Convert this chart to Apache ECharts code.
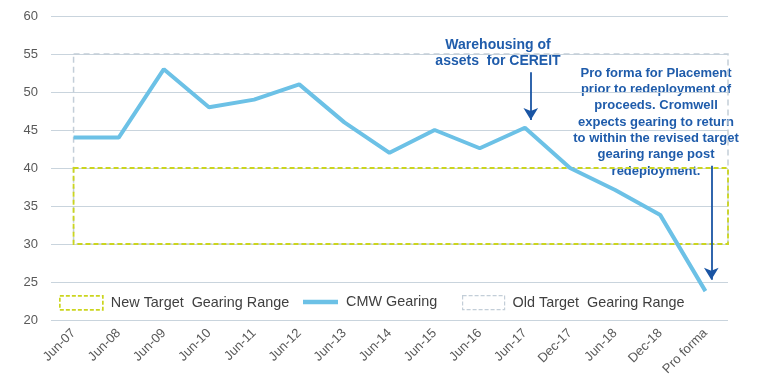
<!DOCTYPE html>
<html><head><meta charset="utf-8">
<script src="https://cdn.jsdelivr.net/npm/echarts@6/dist/echarts.min.js"></script>
<style>html,body{margin:0;padding:0;background:#fff}#c{width:757px;height:384px}</style>
</head><body><div id="c"></div>
<script>
const categories = ['Jun-07','Jun-08','Jun-09','Jun-10','Jun-11','Jun-12','Jun-13','Jun-14','Jun-15','Jun-16','Jun-17','Dec-17','Jun-18','Dec-18','Pro forma'];
const cmwGearing = [44, 44, 53, 48, 49, 51, 46, 42, 45, 42.6, 45.3, 40, 37.1, 33.8, 23.8];
const newTargetRange = [['Jun-07', 'Pro forma', 30, 40]];
const oldTargetRange = [['Jun-07', 'Pro forma', 30, 55]];
const yTicks = {min: 20, max: 60, interval: 5};
const warehousingArrow = [[10.13, 52.6], [10.13, 46.3]];
const proFormaArrow = [[14.13, 40.3], [14.13, 25.3]];

const FONT = 'Liberation Sans, Arial, sans-serif';
const YELLOW = '#cbd51e';
const GREY = '#c3ced8';
const chart = echarts.init(document.getElementById('c'));

function boxRenderer(stroke, dash, width){
  return function(params, api){
    const p0 = api.coord([api.value(0), api.value(3)]);
    const p1 = api.coord([api.value(1), api.value(2)]);
    const half = api.size([1, 0])[0] / 2;
    return {
      type: 'rect',
      shape: {x: p0[0], y: p0[1], width: p1[0] + half - p0[0], height: p1[1] - p0[1]},
      style: {fill: 'none', stroke: stroke, lineWidth: width, lineDash: dash}
    };
  };
}

function legendAt(left, width, item){
  return {top: 295, left: left, padding: 0, itemWidth: width, itemHeight: 14, selectedMode: false,
    textStyle: {fontFamily: FONT, fontSize: 14.4, color: '#404040', padding: [0, 0, 0, 3]},
    data: [item]};
}

chart.setOption({
  animation: false,
  grid: {left: 51, right: 29, top: 16, bottom: 64},
  xAxis: [
    {type: 'category', data: categories, boundaryGap: true,
     axisLine: {show: false}, axisTick: {show: false},
     axisLabel: {rotate: 45, fontFamily: FONT, fontSize: 13, color: '#595959', margin: 11, interval: 0}},
    {type: 'value', min: -0.5, max: categories.length - 0.5, show: false}
  ],
  yAxis: {type: 'value', min: yTicks.min, max: yTicks.max, interval: yTicks.interval,
     axisLine: {show: false}, axisTick: {show: false},
     splitLine: {lineStyle: {color: '#c9d4dd', width: 1.2}},
     axisLabel: {fontFamily: FONT, fontSize: 13, color: '#595959', margin: 13}},
  legend: [
    legendAt(59, 43, {name: 'New Target  Gearing Range', icon: 'rect',
      itemStyle: {color: 'rgba(0,0,0,0)', borderColor: YELLOW, borderWidth: 1.7, borderType: [4, 2]}}),
    legendAt(303, 35, {name: 'CMW Gearing', icon: 'path://M0,0h35v4.5h-35z',
      itemStyle: {color: '#6cc1e6', borderWidth: 0}}),
    legendAt(462, 42, {name: 'Old Target  Gearing Range', icon: 'rect',
      itemStyle: {color: 'rgba(0,0,0,0)', borderColor: GREY, borderWidth: 1.2, borderType: [4, 2]}})
  ],
  series: [
    {name: 'Old Target  Gearing Range', type: 'custom',
     renderItem: boxRenderer(GREY, [6, 4], 1.5), data: oldTargetRange, encode: {x: [0, 1], y: [2, 3]},
     itemStyle: {color: 'rgba(0,0,0,0)', borderColor: GREY}, z: 1, silent: true},
    {name: 'New Target  Gearing Range', type: 'custom',
     renderItem: boxRenderer(YELLOW, [5, 3], 1.8), data: newTargetRange, encode: {x: [0, 1], y: [2, 3]},
     itemStyle: {color: 'rgba(0,0,0,0)', borderColor: YELLOW}, z: 2, silent: true},
    {name: 'CMW Gearing', type: 'line', data: cmwGearing,
     showSymbol: false, symbol: 'none', lineStyle: {color: '#6cc1e6', width: 4}, itemStyle: {color: '#6cc1e6'}, z: 3},
    {name: 'arrows', type: 'line', xAxisIndex: 1, data: [], z: 4,
     markLine: {silent: true, symbol: ['none', 'arrow'], symbolSize: [11, 12], animation: false,
       label: {show: false}, lineStyle: {color: '#1a55a4', width: 1.8, type: 'solid'},
       data: [
         [{coord: warehousingArrow[0]}, {coord: warehousingArrow[1]}],
         [{coord: proFormaArrow[0]}, {coord: proFormaArrow[1]}]
       ]}}
  ],
  graphic: [
    {type: 'text', x: 498, y: 37, style: {text: 'Warehousing of\nassets  for CEREIT', textAlign: 'center', fill: '#1f5cab', font: 'bold 14px ' + FONT, lineHeight: 16}},
    {type: 'text', x: 656, y: 65, style: {text: 'Pro forma for Placement\nprior to redeployment of\nproceeds. Cromwell\nexpects gearing to return\nto within the revised target\ngearing range post\nredeployment.', textAlign: 'center', fill: '#1f5cab', font: 'bold 13px ' + FONT, lineHeight: 16.3}}
  ]
});
</script></body></html>
